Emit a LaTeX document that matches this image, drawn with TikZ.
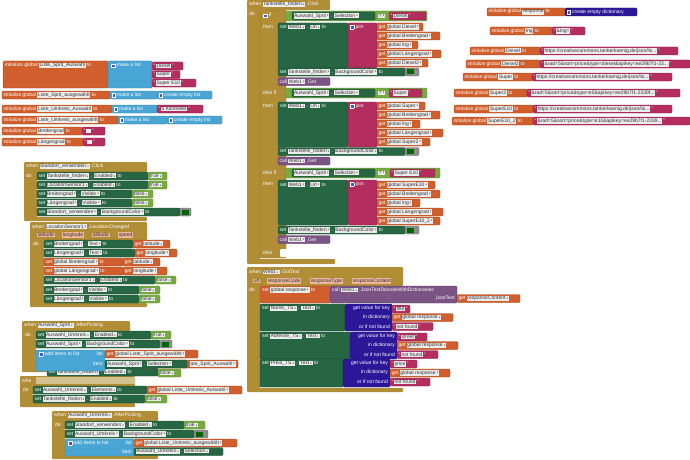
\documentclass[tikz,border=0pt]{standalone}
\usepackage{fontspec}
\setmainfont{Liberation Sans}
\usepackage{amssymb}
\usepackage{graphicx}
\usepackage{xcolor}
\definecolor{evgold}{HTML}{B18E35}
\definecolor{compgreen}{HTML}{266643}
\definecolor{varorange}{HTML}{D05F2D}
\definecolor{listblue}{HTML}{49A6D4}
\definecolor{textmag}{HTML}{B32D5E}
\definecolor{logicgreen}{HTML}{77AB41}
\definecolor{dictblue}{HTML}{2D1799}
\definecolor{callpurple}{HTML}{7C5385}
\definecolor{gearblue}{HTML}{3A5BD9}
\definecolor{swgreen}{HTML}{006400}
\definecolor{fldbg}{HTML}{ECECEC}
\definecolor{fldtxt}{HTML}{333333}
\definecolor{prmbg}{HTML}{EDB59C}
\usetikzlibrary{positioning}
\tikzset{
  blk/.style   ={anchor=north west, inner xsep=1.5pt, inner ysep=0pt, outer sep=0pt,
                 minimum height=8pt, rounded corners=1pt, line width=0.3pt,
                 text=white, font=\bfont},
  bw/.style    ={minimum width=#1,
                 execute at begin node={\hbox to \dimexpr#1pt-3pt\relax\bgroup},
                 execute at end node={\hss\egroup}},
  varb/.style  ={blk, fill=varorange, draw=varorange!75!black},
  compb/.style ={blk, fill=compgreen, draw=compgreen!70!black},
  listb/.style ={blk, fill=listblue, draw=listblue!75!black},
  textb/.style ={blk, fill=textmag, draw=textmag!75!black},
  logicb/.style={blk, fill=logicgreen, draw=logicgreen!75!black},
  dictb/.style ={blk, fill=dictblue, draw=dictblue!75!black},
  callb/.style ={blk, fill=callpurple, draw=callpurple!75!black},
  colb/.style  ={blk, fill=black!45, draw=black!60},
  evfill/.style={fill=evgold, rounded corners=1pt},
  ifbody/.style={fill=evgold, draw=evgold!75!black, line width=0.3pt, rounded corners=1pt},
  lbl/.style   ={anchor=west, inner sep=0pt, text=white, font=\bfont},
  lblr/.style  ={lbl, anchor=east},
}
\newcommand{\bfont}{\fontsize{5}{5.5}\selectfont}
\newcommand{\dropd}{\raisebox{0.3pt}{\scalebox{0.45}{$\blacktriangledown$}}}
\newcommand{\fname}[1]{{\setlength{\fboxsep}{0.6pt}\colorbox{fldbg}{\textcolor{fldtxt}{#1}}}}
\newcommand{\fdd}[1]{\fname{#1\,\dropd}}
\newcommand{\fparam}[1]{{\setlength{\fboxsep}{0.6pt}\colorbox{prmbg}{\textcolor{fldtxt}{#1}}}}
\newcommand{\ftext}[1]{``\,\fname{#1}\,''}
\newcommand{\gearbox}{{\setlength{\fboxsep}{0.5pt}\setlength{\fboxrule}{0.4pt}\fcolorbox{white}{gearblue}{\rule{0pt}{2.4pt}\hspace{2.4pt}}}}
\newcommand{\swatch}{\textcolor{swgreen}{\rule[-0.5pt]{7pt}{5pt}}}

\begin{document}
\begin{tikzpicture}[x=1pt, y=-1pt]
  \useasboundingbox (0,0) rectangle (690,460);
  % global variables, left
  \node[varb, bw=105, minimum height=27] (gA) at (3,61) {};
  \node[lbl] (gAt) at (5,65.5) {initialize global \fname{Liste\_Sprit\_Auswahl} to};
  \node[listb, bw=44, minimum height=27] (gAl) at (108,61) {};
  \node[lbl] (gAlt) at (111,65.5) {\gearbox\ make a list};
  \node[textb, bw=31] (gA1) at (152,62) {\ftext{Diesel}};
  \node[textb, bw=28] (gA2) at (152,70.5) {\ftext{Super}};
  \node[textb, bw=44] (gA3) at (152,79) {\ftext{Super E10}};
  \node[varb, bw=108] (gB) at (2,91) {initialize global \fname{Liste\_Sprit\_ausgewählt} to};
  \node[listb, bw=47] (gBl) at (110,91) {\gearbox\ make a list};
  \node[listb, bw=55] (gBe) at (157,91) {\gearbox\ create empty list};
  \node[varb, bw=110] (gC) at (2,105) {initialize global \fname{Liste\_Umkreis\_Auswahl} to};
  \node[listb, bw=45] (gCl) at (112,105) {\gearbox\ make a list};
  \node[textb, bw=46] (gC1) at (157,105) {\ftext{5 Kilometer}};
  \node[varb, bw=116] (gD) at (2,116) {initialize global \fname{Liste\_Umkreis\_ausgewählt} to};
  \node[listb, bw=49] (gDl) at (118,116) {\gearbox\ make a list};
  \node[listb, bw=55] (gDe) at (167,116) {\gearbox\ create empty list};
  \node[varb, bw=80] (gE) at (2,127) {initialize global \fname{Breitengrad} to};
  \node[textb, bw=23] (gE1) at (82,127) {\ftext{\phantom{M}}};
  \node[varb, bw=81] (gF) at (2,138) {initialize global \fname{Längengrad} to};
  \node[textb, bw=22] (gF1) at (83,138) {\ftext{\phantom{M}}};

  % when Standort_verwenden.Click
  \fill[evfill] (24,162) rectangle (147,172) (24,162) rectangle (37,221) (24,217) rectangle (147,221);
  \node[lbl] (stdH) at (26,166.5) {when \fdd{Standort\_verwenden} .Click};
  \node[lbl] (stdD) at (26,176) {do};
  \node[compb, bw=111] (std1) at (37,172) {set \fdd{Tankstelle\_finden} . \fdd{Enabled} to};
  \node[logicb, bw=19] (std1v) at (148,172) {\fdd{true}};
  \node[compb, bw=111] (std2) at (37,181) {set \fdd{LocationSensor1} . \fdd{Enabled} to};
  \node[logicb, bw=19] (std2v) at (148,181) {\fdd{true}};
  \node[compb, bw=95] (std3) at (37,190) {set \fdd{Breitengrad} . \fdd{Visible} to};
  \node[logicb, bw=21] (std3v) at (132,190) {\fdd{false}};
  \node[compb, bw=95] (std4) at (37,199) {set \fdd{Längengrad} . \fdd{Visible} to};
  \node[logicb, bw=21] (std4v) at (132,199) {\fdd{false}};
  \node[compb, bw=143] (std5) at (37,208) {set \fdd{Standort\_verwenden} . \fdd{BackgroundColor} to};
  \node[colb, bw=11] (std5c) at (180,208) {\swatch};

  % when LocationSensor1.LocationChanged
  \fill[evfill] (30,222) rectangle (147,240) (30,222) rectangle (44,307) (30,303) rectangle (147,307);
  \node[lbl] (locH) at (32,226.5) {when \fdd{LocationSensor1} .LocationChanged};
  \node[lbl] (locP1) at (37,235) {\fparam{latitude}};
  \node[lbl] (locP2) at (62,235) {\fparam{longitude}};
  \node[lbl] (locP3) at (92,235) {\fparam{altitude}};
  \node[lbl] (locP4) at (118,235) {\fparam{speed}};
  \node[lbl] (locD) at (33,244) {do};
  \node[compb, bw=89] (loc1) at (44,240) {set \fdd{Breitengrad} . \fdd{Text} to};
  \node[varb, bw=37] (loc1g) at (133,240) {get \fdd{latitude}};
  \node[compb, bw=91] (loc2) at (44,249) {set \fdd{Längengrad} . \fdd{Text} to};
  \node[varb, bw=42] (loc2g) at (135,249) {get \fdd{longitude}};
  \node[varb, bw=79] (loc3) at (44,258) {set \fdd{global Breitengrad} to};
  \node[varb, bw=37] (loc3g) at (123,258) {get \fdd{latitude}};
  \node[varb, bw=79] (loc4) at (44,267) {set \fdd{global Längengrad} to};
  \node[varb, bw=44] (loc4g) at (123,267) {get \fdd{longitude}};
  \node[compb, bw=111] (loc5) at (44,276) {set \fdd{LocationSensor1} . \fdd{Enabled} to};
  \node[logicb, bw=21] (loc5v) at (155,276) {\fdd{false}};
  \node[compb, bw=95] (loc6) at (44,286) {set \fdd{Breitengrad} . \fdd{Visible} to};
  \node[logicb, bw=21] (loc6v) at (139,286) {\fdd{false}};
  \node[compb, bw=95] (loc7) at (44,295) {set \fdd{Längengrad} . \fdd{Visible} to};
  \node[logicb, bw=21] (loc7v) at (139,295) {\fdd{false}};

  % second when block, partly hidden
  \fill[evfill] (20,376) rectangle (135,386) (20,376) rectangle (33,407) (20,403) rectangle (135,407);
  \node[lbl] (s2H) at (22,381) {whe};
  \node[lbl] (s2D) at (23,390) {do};
  \node[compb, bw=114] (s21) at (33,386) {set \fdd{Auswahl\_Umkreis} . \fdd{Elements} to};
  \node[varb, bw=95] (s21g) at (147,386) {get \fdd{global Liste\_Umkreis\_Auswahl}};
  \node[compb, bw=112] (s22) at (33,395) {set \fdd{Tankstelle\_finden} . \fdd{Enabled} to};
  \node[logicb, bw=22] (s22v) at (145,395) {\fdd{false}};
  \fill[evgold!55!white] (36,377) rectangle (135,384);

  % when Auswahl_Sprit.AfterPicking
  \fill[evfill] (22,321) rectangle (130,331) (22,321) rectangle (36,372) (22,367) rectangle (130,372);
  \node[lbl] (spH) at (24,325.5) {when \fdd{Auswahl\_Sprit} .AfterPicking};
  \node[lbl] (spD) at (25,335) {do};
  \node[compb, bw=115] (sp1) at (36,331) {set \fdd{Auswahl\_Umkreis} . \fdd{Enabled} to};
  \node[logicb, bw=20] (sp1v) at (151,331) {\fdd{true}};
  \node[compb, bw=124] (sp2) at (36,340) {set \fdd{Auswahl\_Sprit} . \fdd{BackgroundColor} to};
  \node[colb, bw=12] (sp2c) at (160,340) {\swatch};
  \node[compb, bw=111] (sp4) at (47,368) {set \fdd{Tankstelle\_finden} . \fdd{Enabled} to};
  \node[logicb, bw=23] (sp4v) at (158,369) {\fdd{false}};
  \node[varb, bw=100] (sp3o) at (138,360) {};
  \node[lblr] (sp3ot) at (236,364) {\fdd{ate\_Sprit\_Auswahl}};
  \node[listb, bw=69, minimum height=21] (sp3) at (36,350) {};
  \node[lbl] (sp3t) at (39,354) {\gearbox\ add items to list};
  \node[lblr] (sp3l) at (103,354) {list};
  \node[lblr] (sp3i) at (103,364) {item};
  \node[varb, bw=93] (sp3g) at (105,350) {get \fdd{global Liste\_Sprit\_ausgewählt}};
  \node[compb, bw=82] (sp3s) at (105,360) {\fdd{Auswahl\_Sprit} . \fdd{Selection}};

  % when Auswahl_Umkreis.AfterPicking
  \fill[evfill] (52,411) rectangle (158,421) (52,411) rectangle (65,459) (52,455) rectangle (158,459);
  \node[lbl] (umH) at (54,415.5) {when \fdd{Auswahl\_Umkreis} .AfterPicking};
  \node[lbl] (umD) at (55,425) {do};
  \node[compb, bw=119] (um1) at (65,421) {set \fdd{Standort\_verwenden} . \fdd{Enabled} to};
  \node[logicb, bw=21] (um1v) at (184,421) {\fdd{true}};
  \node[compb, bw=129] (um2) at (65,430) {set \fdd{Auswahl\_Umkreis} . \fdd{BackgroundColor} to};
  \node[colb, bw=14] (um2c) at (194,430) {\swatch};
  \node[listb, bw=69, minimum height=17] (um3) at (65,439) {};
  \node[lbl] (um3t) at (68,443) {\gearbox\ add items to list};
  \node[lblr] (um3l) at (132,443) {list};
  \node[lblr] (um3i) at (132,451.5) {item};
  \node[varb, bw=103] (um3g) at (134,439) {get \fdd{global Liste\_Umkreis\_ausgewählt}};
  \node[compb, bw=89] (um3s) at (134,447.5) {\fdd{Auswahl\_Umkreis} . \fdd{Selection}};

  % when Tankstelle_finden.Click
  \fill[evfill] (247,0) rectangle (330,10) (247,0) rectangle (260,264) (247,259) rectangle (335,264);
  \node[lbl] (tfH) at (249,4.5) {when \fdd{Tankstelle\_finden} .Click};
  \node[lbl] (tfD) at (249,14) {do};
  \fill[ifbody] (260,10) rectangle (286,258);
  \node[lbl] (tfIf) at (263,15.5) {\gearbox\ if};
  \node[lbl] (tfT1) at (263,27) {then};
  \node[lbl] (tfE2) at (263,93) {else if};
  \node[lbl] (tfT2) at (263,106) {then};
  \node[lbl] (tfE3) at (263,173) {else if};
  \node[lbl] (tfT3) at (263,184) {then};
  \node[lbl] (tfEl) at (263,253) {else};
  \fill[white, rounded corners=1pt] (280,249) rectangle (287,257);
  % branch Diesel
  \node[logicb, bw=142, minimum height=10] (tfC1) at (285,11) {};
  \node[compb, bw=83] (tfC1s) at (292,12) {\fdd{Auswahl\_Sprit} . \fdd{Selection}};
  \node[lbl] (tfC1e) at (378,16) {\fdd{=}};
  \node[textb, bw=37] (tfC1t) at (389,12) {\ftext{Diesel}};
  \node[compb, bw=70, minimum height=45] (tfU1) at (278,23) {};
  \node[lbl] (tfU1t) at (280,27) {set \fdd{Web1} . \fdd{Url} to};
  \node[textb, bw=29, minimum height=45] (tfJ1) at (348,23) {};
  \node[lbl] (tfJ1t) at (350,27) {\gearbox\ join};
  \node[varb, bw=46] (tfG11) at (377,23) {get \fdd{global Diesel}};
  \node[varb, bw=63] (tfG12) at (377,32) {get \fdd{global Breitengrad}};
  \node[varb, bw=41] (tfG13) at (377,41) {get \fdd{global lng}};
  \node[varb, bw=64] (tfG14) at (377,50) {get \fdd{global Längengrad}};
  \node[varb, bw=51] (tfG15) at (377,59) {get \fdd{global Diesel2}};
  \node[compb, bw=127] (tfB1) at (278,68) {set \fdd{Tankstelle\_finden} . \fdd{BackgroundColor} to};
  \node[colb, bw=14] (tfB1c) at (405,68) {\swatch};
  \node[callb, bw=52] (tfW1) at (278,77.5) {call \fdd{Web1} .Get};
  % branch Super
  \node[logicb, bw=142, minimum height=10] (tfC2) at (285,88) {};
  \node[compb, bw=83] (tfC2s) at (292,89) {\fdd{Auswahl\_Sprit} . \fdd{Selection}};
  \node[lbl] (tfC2e) at (378,93) {\fdd{=}};
  \node[textb, bw=33] (tfC2t) at (389,89) {\ftext{Super}};
  \node[compb, bw=70, minimum height=45] (tfU2) at (278,102) {};
  \node[lbl] (tfU2t) at (280,106) {set \fdd{Web1} . \fdd{Url} to};
  \node[textb, bw=29, minimum height=45] (tfJ2) at (348,102) {};
  \node[lbl] (tfJ2t) at (350,106) {\gearbox\ join};
  \node[varb, bw=48] (tfG21) at (377,102) {get \fdd{global Super}};
  \node[varb, bw=63] (tfG22) at (377,111) {get \fdd{global Breitengrad}};
  \node[varb, bw=43] (tfG23) at (377,120) {get \fdd{global lng}};
  \node[varb, bw=66] (tfG24) at (377,129) {get \fdd{global Längengrad}};
  \node[varb, bw=53] (tfG25) at (377,138) {get \fdd{global Super2}};
  \node[compb, bw=127] (tfB2) at (278,147.5) {set \fdd{Tankstelle\_finden} . \fdd{BackgroundColor} to};
  \node[colb, bw=14] (tfB2c) at (405,147.5) {\swatch};
  \node[callb, bw=52] (tfW2) at (278,157) {call \fdd{Web1} .Get};
  % branch Super E10
  \node[logicb, bw=155, minimum height=10] (tfC3) at (285,168) {};
  \node[compb, bw=83] (tfC3s) at (292,169) {\fdd{Auswahl\_Sprit} . \fdd{Selection}};
  \node[lbl] (tfC3e) at (378,173) {\fdd{=}};
  \node[textb, bw=45] (tfC3t) at (390,169) {\ftext{Super E10}};
  \node[compb, bw=70, minimum height=45] (tfU3) at (278,180) {};
  \node[lbl] (tfU3t) at (280,184.5) {set \fdd{Web1} . \fdd{Url} to};
  \node[textb, bw=29, minimum height=45] (tfJ3) at (348,180) {};
  \node[lbl] (tfJ3t) at (350,184.5) {\gearbox\ join};
  \node[varb, bw=58] (tfG31) at (377,181) {get \fdd{global SuperE10}};
  \node[varb, bw=63] (tfG32) at (377,190) {get \fdd{global Breitengrad}};
  \node[varb, bw=43] (tfG33) at (377,199) {get \fdd{global lng}};
  \node[varb, bw=66] (tfG34) at (377,208) {get \fdd{global Längengrad}};
  \node[varb, bw=63] (tfG35) at (377,217) {get \fdd{global SuperE10\_2}};
  \node[compb, bw=127] (tfB3) at (278,226) {set \fdd{Tankstelle\_finden} . \fdd{BackgroundColor} to};
  \node[colb, bw=14] (tfB3c) at (405,226) {\swatch};
  \node[callb, bw=52] (tfW3) at (278,235.5) {call \fdd{Web1} .Get};

  % when Web1.GotText
  \fill[evfill] (247,267) rectangle (403,286) (247,267) rectangle (260,392) (247,388) rectangle (403,392);
  \node[lbl] (wbH) at (249,272) {when \fdd{Web1} .GotText};
  \node[lbl] (wbP1) at (253,281) {\fparam{url}};
  \node[lbl] (wbP2) at (267,281) {\fparam{responseCode}};
  \node[lbl] (wbP3) at (310,281) {\fparam{responseType}};
  \node[lbl] (wbP4) at (352,281) {\fparam{responseContent}};
  \node[lbl] (wbD) at (249,290) {do};
  \node[varb, bw=70, minimum height=17] (wbR) at (260,286) {};
  \node[lbl] (wbRt) at (262,290) {set \fdd{global response} to};
  \node[callb, bw=127, minimum height=17] (wbJ) at (330,286) {};
  \node[lbl] (wbJt) at (332,290) {call \fdd{Web1} .JsonTextDecodeWithDictionaries};
  \node[lblr] (wbJk) at (455,298.5) {jsonText};
  \node[varb, bw=63] (wbJg) at (457,294.5) {get \fdd{responseContent}};
  % Name_TS
  \node[compb, bw=85, minimum height=27] (wbN) at (260,304) {};
  \node[lbl] (wbNt) at (262,308.5) {set \fdd{Name\_TS} . \fdd{Text} to};
  \node[dictb, bw=47, minimum height=27] (wbNd) at (345,304) {};
  \node[lblr] (wbNk) at (390,308.5) {get value for key};
  \node[lblr] (wbNi) at (390,317.5) {in dictionary};
  \node[lblr] (wbNo) at (390,326.5) {or if not found};
  \node[textb, bw=18] (wbNv) at (392,305) {\ftext{title}};
  \node[varb, bw=61] (wbNg) at (392,313.5) {get \fdd{global response}};
  \node[textb, bw=41] (wbNf) at (392,322.5) {\ftext{not found}};
  % Adresse_TS
  \node[compb, bw=90, minimum height=27] (wbA) at (260,332) {};
  \node[lbl] (wbAt) at (262,336.5) {set \fdd{Adresse\_TS} . \fdd{Text} to};
  \node[dictb, bw=47, minimum height=27] (wbAd) at (350,332) {};
  \node[lblr] (wbAk) at (395,336.5) {get value for key};
  \node[lblr] (wbAi) at (395,345.5) {in dictionary};
  \node[lblr] (wbAo) at (395,354.5) {or if not found};
  \node[textb, bw=30] (wbAv) at (397,333) {\ftext{street}};
  \node[varb, bw=61] (wbAg) at (397,341.5) {get \fdd{global response}};
  \node[textb, bw=41] (wbAf) at (397,350.5) {\ftext{not found}};
  % Preis_TS
  \node[compb, bw=83, minimum height=28] (wbQ) at (260,359) {};
  \node[lbl] (wbQt) at (262,363.5) {set \fdd{Preis\_TS} . \fdd{Text} to};
  \node[dictb, bw=47, minimum height=28] (wbQd) at (343,359) {};
  \node[lblr] (wbQk) at (388,363.5) {get value for key};
  \node[lblr] (wbQi) at (388,372.5) {in dictionary};
  \node[lblr] (wbQo) at (388,381.5) {or if not found};
  \node[textb, bw=27] (wbQv) at (390,360) {\ftext{price}};
  \node[varb, bw=60] (wbQg) at (390,369) {get \fdd{global response}};
  \node[textb, bw=40] (wbQf) at (390,378) {\ftext{not found}};

  % global variables, right
  \node[varb, bw=78] (rA) at (487,8) {initialize global \fname{response} to};
  \node[dictb, bw=72] (rAd) at (565,8) {\gearbox\ create empty dictionary};
  \node[varb, bw=62] (rB) at (490,27) {initialize global \fname{lng} to};
  \node[textb, bw=33] (rBt) at (552,27) {\ftext{\&lng=}};
  \node[varb, bw=70] (rC) at (470,47) {initialize global \fname{Diesel} to};
  \node[textb, bw=138] (rCt) at (540,47) {\ftext{https://creativecommons.tankerkoenig.de/json/lis...}};
  \node[varb, bw=74] (rD) at (466,60) {initialize global \fname{Diesel2} to};
  \node[textb, bw=150] (rDt) at (540,60) {\ftext{\&rad=5\&sort=price\&type=diesel\&apikey=ee29b7f1-23...}};
  \node[varb, bw=69] (rE) at (463,73) {initialize global \fname{Super} to};
  \node[textb, bw=140] (rEt) at (532,73) {\ftext{https://creativecommons.tankerkoenig.de/json/lis...}};
  \node[varb, bw=73] (rF) at (454,89) {initialize global \fname{Super2} to};
  \node[textb, bw=153] (rFt) at (527,89) {\ftext{\&rad=5\&sort=price\&type=e5\&apikey=ee29b7f1-2339f...}};
  \node[varb, bw=79] (rG) at (454,105) {initialize global \fname{SuperE10} to};
  \node[textb, bw=139] (rGt) at (533,105) {\ftext{https://creativecommons.tankerkoenig.de/json/lis...}};
  \node[varb, bw=81] (rH) at (452,117) {initialize global \fname{SuperE10\_2} to};
  \node[textb, bw=157] (rHt) at (533,117) {\ftext{\&rad=5\&sort=price\&type=e10\&apikey=ee29b7f1-2339...}};
\end{tikzpicture}
\end{document}
